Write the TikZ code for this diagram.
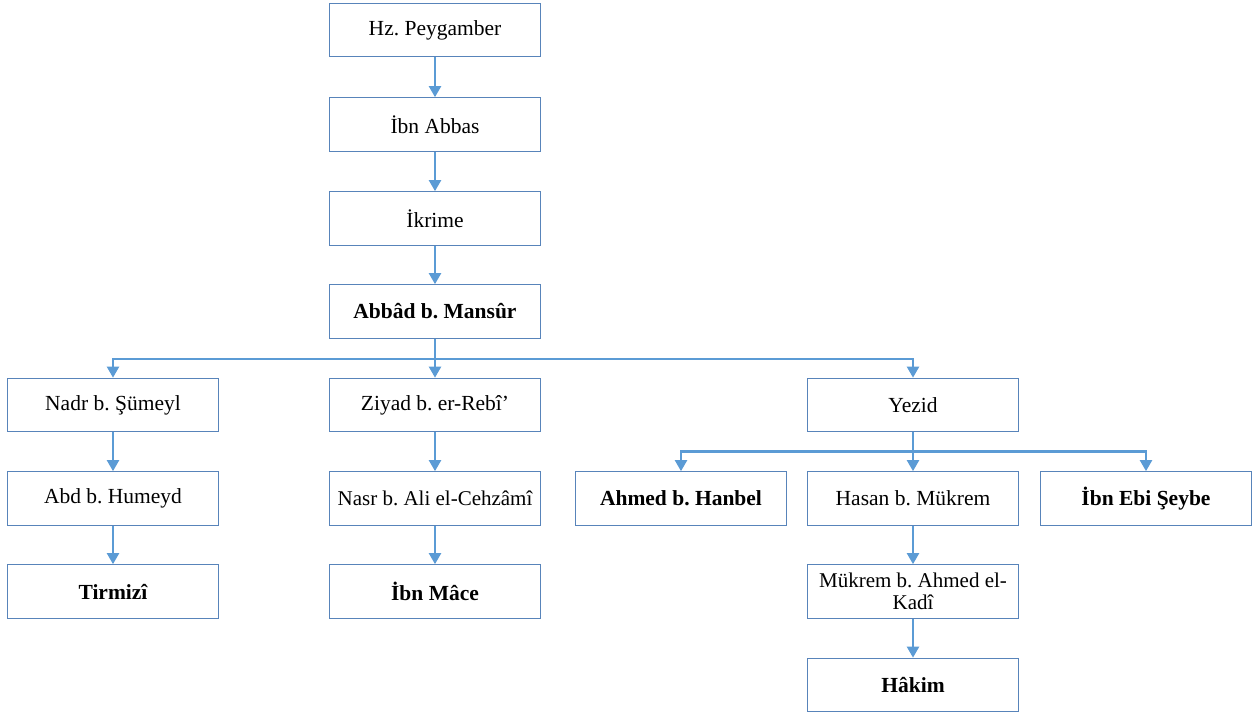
\documentclass[tikz,border=0pt]{standalone}
\usepackage{fontspec}
\setmainfont{Liberation Serif}
\usetikzlibrary{arrows.meta}
\definecolor{lineblue}{RGB}{91,155,213}
\definecolor{boxblue}{RGB}{88,132,186}
\tikzset{
  box/.style={draw=boxblue, line width=1.2pt, fill=white, minimum width=210.5pt, minimum height=53.5pt, inner sep=0pt, align=center, font=\fontsize{21.5}{23}\selectfont},
  bbox/.style={box, font=\fontsize{21.5}{23}\selectfont\bfseries},
  conn/.style={draw=lineblue, line width=2.2pt, -{Triangle[width=12pt,length=11pt]}},
  plain/.style={draw=lineblue, line width=2.2pt}
}
\begin{document}
\frenchspacing
\begin{tikzpicture}[x=1pt,y=-1pt]
\useasboundingbox (0,0) rectangle (1259,716);
% column centers: 113, 435, 681, 913, 1146
\node[box]  (hz)     at (435,30)    {Hz. Peygamber};
\node[box]  (abbas)  at (435,124.5) {İbn Abbas};
\node[box]  (ikrime) at (435,218.5) {İkrime};
\node[bbox] (abbad)  at (435,311.5) {Abbâd b. Mansûr};
\node[box]  (nadr)   at (113,405)   {Nadr b. Şümeyl};
\node[box]  (ziyad)  at (435,405)   {Ziyad b. er-Rebî’};
\node[box]  (yezid)  at (913,405)   {Yezid};
\node[box]  (abd)    at (113,498.5) {Abd b. Humeyd};
\node[box, font=\fontsize{21}{23}\selectfont]  (nasr)   at (435,498.5) {Nasr b. Ali el-Cehzâmî};
\node[bbox] (ahmed)  at (681,498.5) {Ahmed b. Hanbel};
\node[box]  (hasan)  at (913,498.5) {Hasan b. Mükrem};
\node[bbox] (ebi)    at (1146,498.5) {İbn Ebi Şeybe};
\node[bbox] (tirmizi) at (113,591.5) {Tirmizî};
\node[bbox] (mace)   at (435,591.5) {İbn Mâce};
\node[box, font=\fontsize{21}{22.5}\selectfont] (mukrem) at (913,591.5) {Mükrem b. Ahmed el-\\Kadî};
\node[bbox] (hakim)  at (913,685)   {Hâkim};
\coordinate (j1) at (435,358.7);
\coordinate (j2) at (913,451.5);
\draw[conn] (hz) -- (abbas);
\draw[conn] (abbas) -- (ikrime);
\draw[conn] (ikrime) -- (abbad);
\draw[plain] (abbad) -- (j1);
\draw[conn] (j1) -| (nadr);
\draw[conn] (j1) -- (ziyad);
\draw[conn] (j1) -| (yezid);
\draw[conn] (nadr) -- (abd);
\draw[conn] (abd) -- (tirmizi);
\draw[conn] (ziyad) -- (nasr);
\draw[conn] (nasr) -- (mace);
\draw[plain] (yezid) -- (j2);
\draw[conn] (j2) -| (ahmed);
\draw[conn] (j2) -- (hasan);
\draw[conn] (j2) -| (ebi);
\draw[conn] (hasan) -- (mukrem);
\draw[conn] (mukrem) -- (hakim);
\end{tikzpicture}
\end{document}
